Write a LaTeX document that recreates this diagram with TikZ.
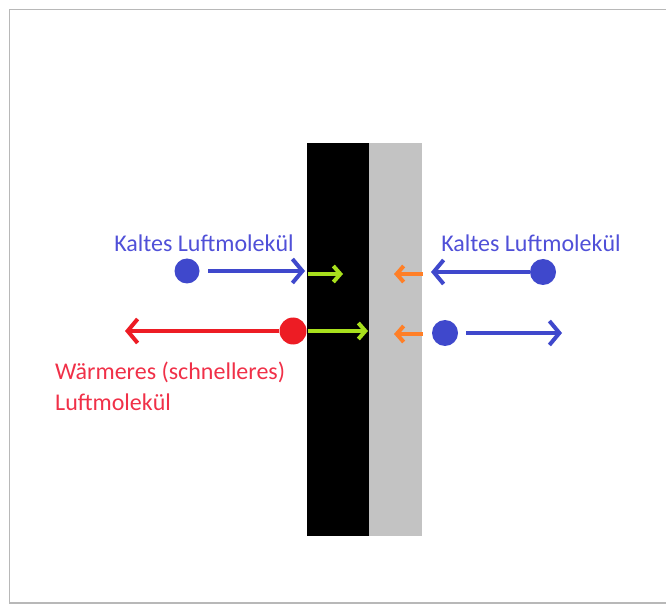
\documentclass[tikz,border=0pt]{standalone}
\usepackage{fontspec}
\setmainfont{Carlito}
\usetikzlibrary{arrows.meta}
\definecolor{molblue}{HTML}{3F48CC}
\definecolor{txtblue}{HTML}{5050D8}
\definecolor{molred}{HTML}{ED1C24}
\definecolor{txtred}{HTML}{F03048}
\definecolor{molgreen}{HTML}{A8E01D}
\definecolor{molorange}{HTML}{FF7F27}
\definecolor{wallgray}{HTML}{C3C3C3}
\definecolor{framegray}{HTML}{B8B8B8}
\begin{document}
\begin{tikzpicture}[x=1pt,y=-1pt,
  dot/.style={circle,inner sep=0pt,minimum size=25pt},
  bigarrow/.style={line width=4pt,-{Straight Barb[length=10pt,width=24pt,line width=4pt]}},
  smallarrow/.style={line width=4pt,-{Straight Barb[length=7pt,width=16pt,line width=4pt]}},
  lbl/.style={font=\fontsize{24}{31}\selectfont,inner sep=0pt}]
\useasboundingbox (0,0) rectangle (666,609);
% frame
\draw[framegray,line width=1.6pt] (666,9.5) -- (9.5,9.5) -- (9.5,603) -- (666,603);
% walls
\fill[black] (307,143) rectangle (369,536);
\fill[wallgray] (369,143) rectangle (422,536);
% left top molecule
\node[dot,fill=molblue] (b1) at (187,271) {};
\coordinate (b1e) at (305,271);
\draw[bigarrow,molblue] (208,271) -- (b1e);
\coordinate (g1s) at (308,274);
\coordinate (g1e) at (343,274);
\draw[smallarrow,molgreen] (g1s) -- (g1e);
\node[lbl,text=txtblue] (t1) at (204,243) {Kaltes Luftmolekül};
% red molecule
\node[dot,fill=molred,minimum size=27pt] (r1) at (293,331) {};
\coordinate (r1e) at (125,331);
\draw[bigarrow,molred] (r1.west) -- (r1e);
\coordinate (g2s) at (308,331);
\coordinate (g2e) at (368,331);
\draw[smallarrow,molgreen] (g2s) -- (g2e);
\node[lbl,text=txtred,align=left,anchor=west] (t2) at (55,386) {Wärmeres (schnelleres)\\Luftmolekül};
% right top molecule
\node[dot,fill=molblue,minimum size=26pt] (b2) at (543,272) {};
\coordinate (b2e) at (431,272);
\draw[bigarrow,molblue] (b2.west) -- (b2e);
\coordinate (o1s) at (423,274);
\coordinate (o1e) at (394,274);
\draw[smallarrow,molorange] (o1s) -- (o1e);
\node[lbl,text=txtblue] (t3) at (531,243) {Kaltes Luftmolekül};
% right bottom molecule
\node[dot,fill=molblue,minimum size=26pt] (b3) at (445,333) {};
\coordinate (b3e) at (562,333);
\draw[bigarrow,molblue] (466,333) -- (b3e);
\coordinate (o2s) at (423,334);
\coordinate (o2e) at (394,334);
\draw[smallarrow,molorange] (o2s) -- (o2e);
\end{tikzpicture}
\end{document}
